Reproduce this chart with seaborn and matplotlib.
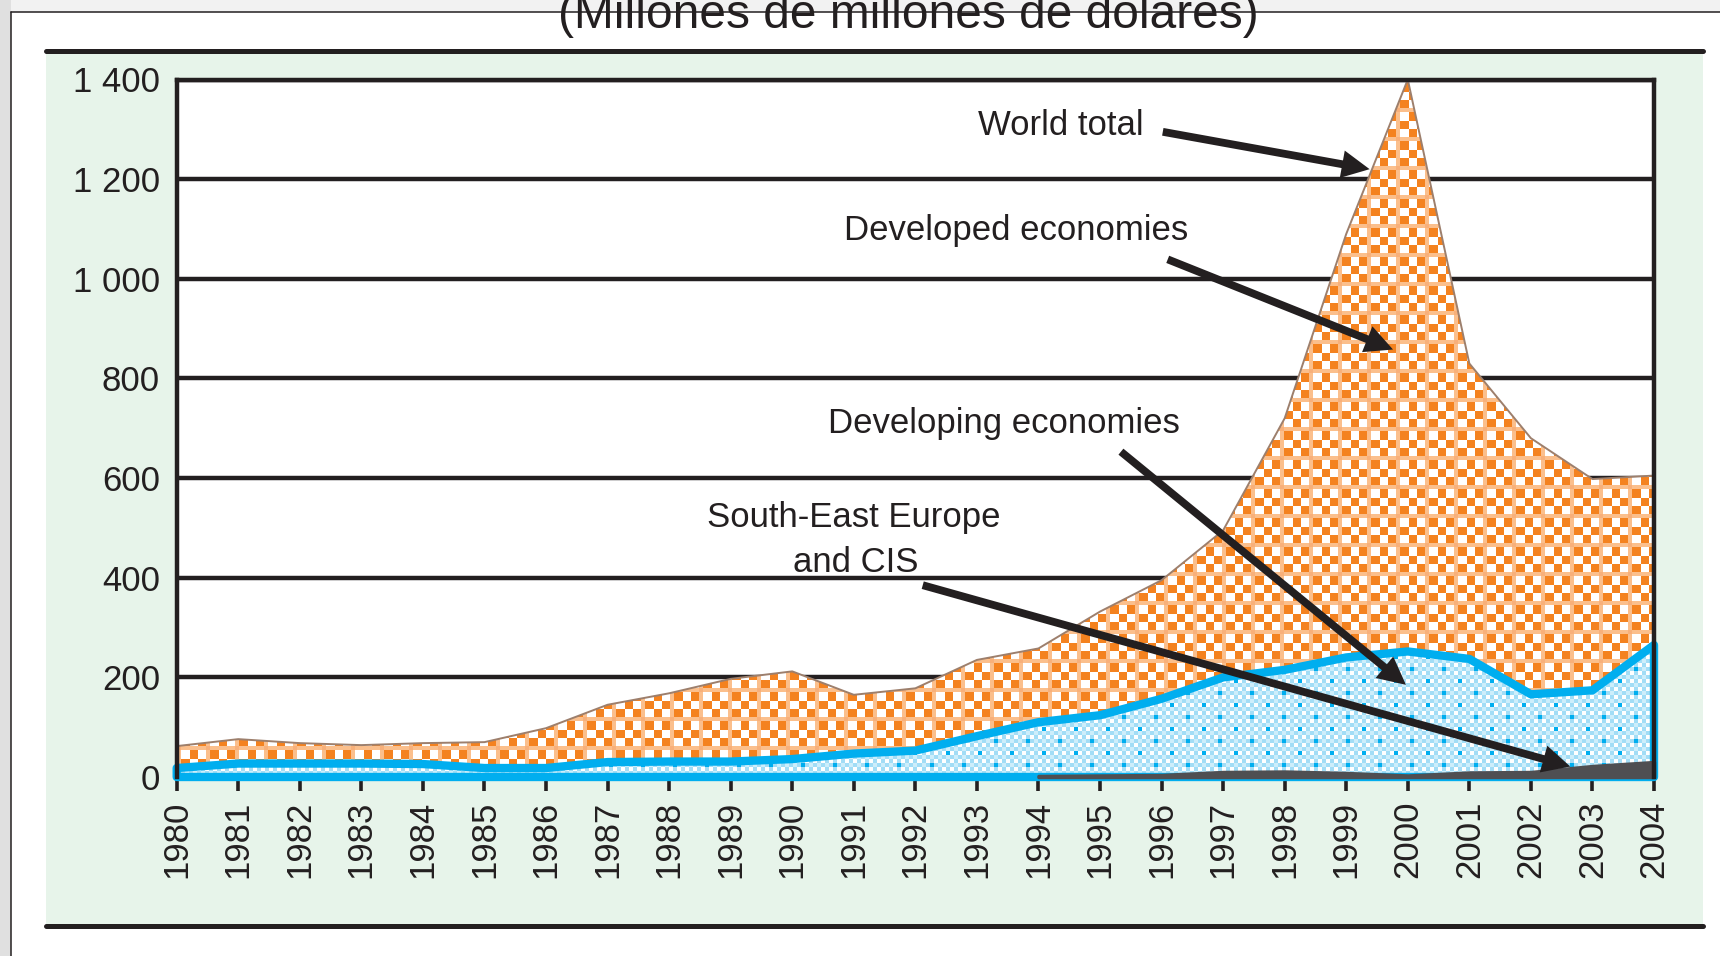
import numpy as np
import pandas as pd
import seaborn as sns
import matplotlib.pyplot as plt
from matplotlib.patches import Rectangle
from matplotlib.lines import Line2D
from matplotlib.colors import to_rgb

# FDI inflows, billions of dollars
years = list(range(1980, 2005))
world_total = [62, 76, 68, 64, 68, 70, 98, 145, 168, 197, 212, 165, 178, 235, 258, 332,
               395, 495, 720, 1090, 1400, 830, 680, 598, 605]
developing = [18, 27, 27, 27, 26, 18, 18, 30, 31, 31, 36, 47, 53, 82, 110, 124,
              157, 200, 215, 240, 252, 237, 166, 174, 265]
see_cis = [np.nan] * 14 + [2, 3, 4, 10, 11, 8, 3, 9, 10, 22, 30]

y_ticks = [0, 200, 400, 600, 800, 1000, 1200, 1400]
y_tick_labels = ['0', '200', '400', '600', '800', '1 000', '1 200', '1 400']
x_tick_labels = [str(y) for y in years]
title = '(Millones de millones de dolares)'

df = pd.DataFrame({'year': years, 'world': world_total,
                   'developing': developing, 'see': see_cis})

ink = '#231f20'
orange = '#f4821f'
peach = '#fbbf8c'
blue = '#00aeef'
dark = '#4f4f52'

sns.set_theme(style='white')
plt.rcParams['font.family'] = ['Liberation Sans', 'DejaVu Sans']

W_PX, H_PX = 1720, 956
fig = plt.figure(figsize=(W_PX / 100, H_PX / 100), dpi=100)
fig.patch.set_facecolor('white')


def fx(px):
    return px / W_PX


def fy(py):
    return 1 - py / H_PX


# page frame and the mint panel behind the chart
fig.add_artist(Rectangle((0, fy(12)), 1, 12 / H_PX, transform=fig.transFigure,
                         fc='#f2f2f2', ec='none', zorder=-3))
fig.add_artist(Rectangle((0, 0), fx(11), 1, transform=fig.transFigure,
                         fc='#e0e0e0', ec='none', zorder=-3))
fig.add_artist(Line2D([fx(11), 1], [fy(12), fy(12)], transform=fig.transFigure,
                      color=ink, lw=1.1, zorder=-2))
fig.add_artist(Line2D([fx(11), fx(11)], [0, fy(12)], transform=fig.transFigure,
                      color=ink, lw=1.1, zorder=-2))
fig.add_artist(Rectangle((fx(46), fy(925)), fx(1703) - fx(46), fy(52) - fy(925),
                         transform=fig.transFigure, fc='#e7f4ea', ec='none', zorder=-2))
for yy in (50.5, 926):
    fig.add_artist(Line2D([fx(46), fx(1703)], [fy(yy), fy(yy)], transform=fig.transFigure,
                          color=ink, lw=3.6, zorder=-1))

fig.text(fx(908), fy(28), title, ha='center', va='baseline', fontsize=34.5, color=ink)

ax = fig.add_axes([fx(176.7), fy(777), fx(1654) - fx(176.7), fy(79.5) - fy(777)])
ax.set_facecolor('white')

# textures for the two patterned areas
bb = ax.get_window_extent()
H, W = int(round(bb.height)), int(round(bb.width))
ii, jj = np.indices((H, W))

P, band = 29, 4
cell = (P - band) / 3
pi, pj = ii % P, jj % P
ci = (ii // P) * 3 + np.clip(((pi - band) // cell).astype(int), 0, 2)
cj = (jj // P) * 3 + np.clip(((pj - band) // cell).astype(int), 0, 2)
tex_o = np.ones((H, W, 3))
tex_o[(ci + cj) % 2 == 0] = to_rgb(orange)
tex_o[(pi < band) | (pj < band)] = to_rgb(peach)
tex_o[(pi < band) & (pj < band)] = to_rgb('#f8b07a')

bi, bj = ii // 4, jj // 4
tex_b = np.ones((H, W, 3))
tex_b[(bi + bj) % 2 == 0] = to_rgb('#a2ddf6')
tex_b[(bi % 2 == 1) & (bj % 2 == 0)] = to_rgb('#cdeefb')
tex_b[(bi % 3 == 0) & (bj % 4 == 0) & ((bi // 3 + bj // 4) % 2 == 0)] = to_rgb(blue)

ax.set_axisbelow(True)
ax.grid(axis='y', color=ink, lw=3.2)
ax.grid(axis='x', visible=False)

# world total (orange)
world_poly = ax.fill_between(df['year'], 0, df['world'], fc='none', ec='none')
im_o = ax.imshow(tex_o, extent=(1980, 2004, 0, 1400), aspect='auto',
                 interpolation='nearest', zorder=2)
im_o.set_clip_path(world_poly.get_paths()[0], ax.transData)
sns.lineplot(data=df, x='year', y='world', color='#9d7f6c', linewidth=1.4,
             ax=ax, zorder=3)

# developing economies (blue)
dev_poly = ax.fill_between(df['year'], 0, df['developing'], fc='none', ec='none')
im_b = ax.imshow(tex_b, extent=(1980, 2004, 0, 1400), aspect='auto',
                 interpolation='nearest', zorder=4)
im_b.set_clip_path(dev_poly.get_paths()[0], ax.transData)
ax.fill_between(df['year'], 0, df['developing'], fc='none', ec=blue, lw=6,
                zorder=5, clip_on=False)

# South-East Europe and CIS (dark grey)
ax.fill_between(df['year'], 0, df['see'], fc=dark, ec=dark, lw=2.5,
                zorder=6, clip_on=False)

ax.set_xlim(1980, 2004)
ax.set_ylim(0, 1400)
ax.set_xlabel('')
ax.set_ylabel('')
ax.set_xticks(years, labels=x_tick_labels, rotation=90)
ax.set_yticks(y_ticks, labels=y_tick_labels)
ax.tick_params(axis='x', bottom=True, length=10, width=2.6, color=ink, pad=7,
               direction='out', labelsize=25, labelcolor=ink)
ax.tick_params(axis='y', left=False, length=0, pad=12, labelsize=25, labelcolor=ink)

for side in ('top', 'left', 'right'):
    ax.spines[side].set_linewidth(3.2)
    ax.spines[side].set_color(ink)
    ax.spines[side].set_zorder(8)
ax.spines['bottom'].set_visible(False)

# labels with arrows
arrow = dict(arrowstyle='simple,head_length=1.0,head_width=1.0,tail_width=0.28',
             mutation_scale=20, fc=ink, ec='none', shrinkA=0, shrinkB=0)
labels = [
    ('World total', (1994.37, 1288), (1996.02, 1295), (1999.38, 1220)),
    ('Developed economies', (1993.64, 1078), (1996.10, 1039), (1999.76, 858)),
    ('Developing economies', (1993.44, 690), (1995.34, 653), (1999.97, 185)),
]
for txt, pos, tail, tip in labels:
    ax.text(pos[0], pos[1], txt, ha='center', va='baseline', fontsize=25,
            color=ink, zorder=9)
    ax.annotate('', xy=tip, xytext=tail, arrowprops=arrow, zorder=9)

ax.text(1991.0, 502, 'South-East Europe', ha='center', va='baseline', fontsize=25,
        color=ink, zorder=9)
ax.text(1991.03, 412, 'and CIS', ha='center', va='baseline', fontsize=25,
        color=ink, zorder=9)
ax.annotate('', xy=(2002.64, 21), xytext=(1992.12, 385), arrowprops=arrow, zorder=9)

fig.savefig('out.png', dpi=100)
